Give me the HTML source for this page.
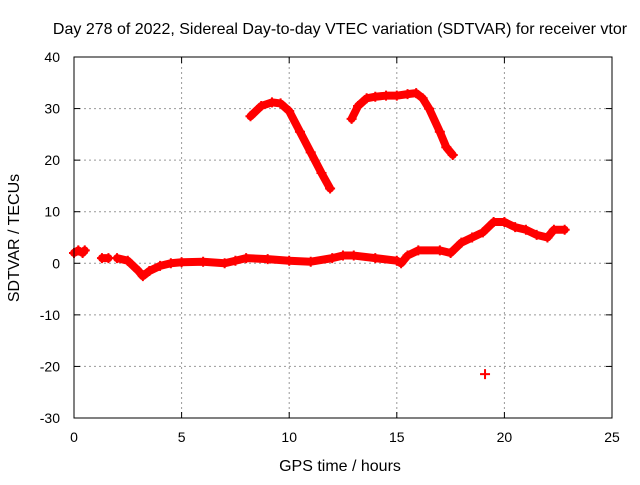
<!DOCTYPE html>
<html><head><meta charset="utf-8"><style>
body{margin:0;background:#fff;}
svg text{font-family:"Liberation Sans",sans-serif;font-size:14px;fill:#000;}
svg text.big{font-size:16px;}
</style></head><body>
<svg id="c" width="640" height="480" xmlns="http://www.w3.org/2000/svg">
<rect width="640" height="480" fill="#fff"/>
<text class="big" x="340" y="34" text-anchor="middle">Day 278 of 2022, Sidereal Day-to-day VTEC variation (SDTVAR) for receiver vtor</text>
<text class="big" x="340" y="471" text-anchor="middle">GPS time / hours</text>
<text class="big" transform="translate(19,238) rotate(-90)" text-anchor="middle">SDTVAR / TECUs</text>
<g id="grid"></g><g id="ticks"></g><g id="marks"></g>
<rect x="74" y="57" width="538" height="361" fill="none" stroke="#000" stroke-width="1"/>
</svg>
<script>
const xTicks=[0,5,10,15,20,25];
const yTicks=[-30,-20,-10,0,10,20,30,40];
const seg1X=[0,0.2,0.4,0.5];
const seg1Y=[2,2.5,2,2.5];
const seg2X=[1.3,1.6];
const seg2Y=[1,1];
const seg3X=[2,2.5,3,3.2,3.5,4,4.5,5,6,7,7.5,8,9,10,11,12,12.5,13,14,15,15.2,15.5,16,17,17.5,18,18.5,19,19.5,20,20.5,21,21.5,22,22.3,22.8];
const seg3Y=[1,0.5,-1.5,-2.5,-1.5,-0.5,0,0.2,0.3,0,0.5,1,0.8,0.5,0.3,1,1.5,1.5,1,0.5,0,1.5,2.5,2.5,2,4,5,6,8,8,7,6.5,5.5,5,6.5,6.5];
const seg4X=[8.2,8.7,9.2,9.6,10,10.5,11,11.5,11.9];
const seg4Y=[28.5,30.5,31.2,31,29.5,25.5,21.5,17.5,14.5];
const seg5X=[12.9,13.2,13.6,14,14.5,15,15.5,15.9,16.2,16.5,17,17.3,17.6];
const seg5Y=[28,30.5,32,32.3,32.5,32.5,32.8,33,32,30,25.5,22.5,21];
const seg6X=[19.1];
const seg6Y=[-21.5];
const NS="http://www.w3.org/2000/svg";
const X0=74,X1=612,Y0=418,Y1=57;
const sx=v=>X0+(v-0)/(25-0)*(X1-X0);
const sy=v=>Y0-(v+30)/(70)*(Y0-Y1);
function mk(t,a,p){const e=document.createElementNS(NS,t);for(const k in a)e.setAttribute(k,a[k]);p.appendChild(e);return e;}
const grid=document.getElementById('grid'),ticks=document.getElementById('ticks'),marks=document.getElementById('marks');
xTicks.forEach(v=>{const x=sx(v);
 if(v>0&&v<25){const l=mk('line',{x1:x,x2:x,y1:Y1,y2:Y0,stroke:'#999','stroke-dasharray':'2,3'},grid);
 
 }
 mk('line',{x1:x,x2:x,y1:Y0,y2:Y0-6,stroke:'#000'},ticks);
 mk('line',{x1:x,x2:x,y1:Y1,y2:Y1+6,stroke:'#000'},ticks);
 const t=mk('text',{x:x,y:Y0+24,'text-anchor':'middle'},ticks);t.textContent=v;
 
 });
yTicks.forEach(v=>{const y=sy(v);
 if(v>-30&&v<40){const l=mk('line',{x1:X0,x2:X1,y1:y,y2:y,stroke:'#999','stroke-dasharray':'2,3'},grid);
 
 }
 mk('line',{x1:X0,x2:X0+6,y1:y,y2:y,stroke:'#000'},ticks);
 mk('line',{x1:X1,x2:X1-6,y1:y,y2:y,stroke:'#000'},ticks);
 const t=mk('text',{x:X0-14,y:y+5,'text-anchor':'end'},ticks);t.textContent=v;
 
 });
const segs=[[seg1X,seg1Y],[seg2X,seg2Y],[seg3X,seg3Y],[seg4X,seg4Y],[seg5X,seg5Y],[seg6X,seg6Y]];
segs.forEach((s,i)=>{const g=mk('g',{},marks);
 
 
 const pts=s[0].map((x,j)=>sx(x)+','+sy(s[1][j])).join(' ');
 if(s[0].length>1)mk('polyline',{points:pts,fill:'none',stroke:'#f00','stroke-width':8,'stroke-linejoin':'round','stroke-linecap':'round'},g);
 s[0].forEach((x,j)=>{const px=sx(x),py=sy(s[1][j]);
  mk('path',{d:`M${px-5},${py}h10M${px},${py-5}v10`,stroke:'#f00','stroke-width':2},g);});
});
</script>
</body></html>
